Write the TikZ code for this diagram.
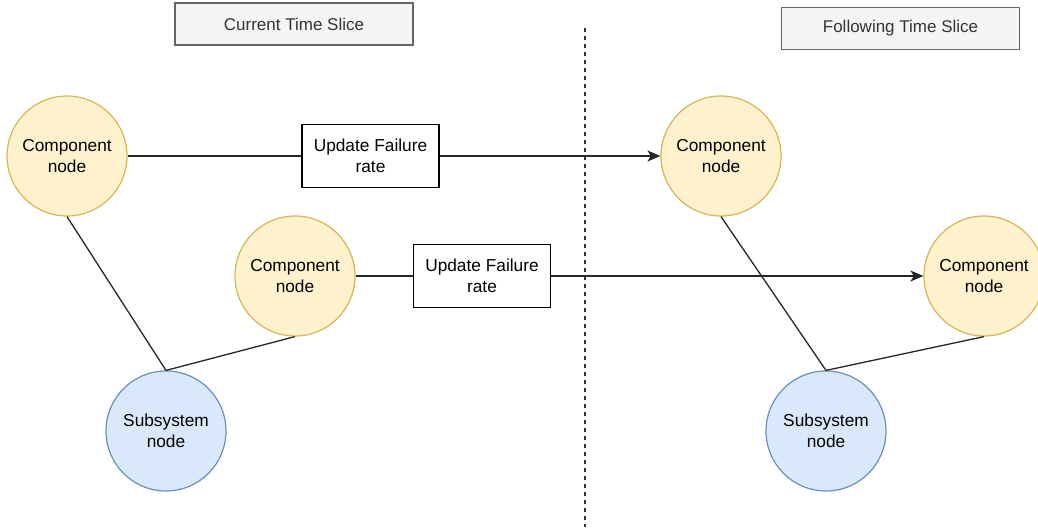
\documentclass[tikz,border=0pt]{standalone}
\usepackage{fontspec}
\setmainfont{Liberation Sans}
\usetikzlibrary{arrows.meta}
\definecolor{compfill}{HTML}{FFF2CC}
\definecolor{compline}{HTML}{D6B656}
\definecolor{subfill}{HTML}{DAE8FC}
\definecolor{subline}{HTML}{6C8EBF}
\definecolor{titlefill}{HTML}{F5F5F5}
\definecolor{titleline}{HTML}{666666}
\definecolor{titletext}{HTML}{333333}
\tikzset{
  lbl/.style={font=\fontsize{17.3}{21}\selectfont, align=center},
  compnode/.style={lbl, circle, draw=compline, fill=compfill, line width=1.2pt,
    minimum size=120pt, inner sep=0pt},
  subnode/.style={lbl, circle, draw=subline, fill=subfill, line width=1.2pt,
    minimum size=120pt, inner sep=0pt},
  updatebox/.style={lbl, rectangle, draw=black, fill=white, line width=1.3pt,
    minimum width=137pt, minimum height=63pt, inner sep=0pt},
  slicebox/.style={rectangle, draw=titleline, fill=titlefill, line width=1.1pt,
    minimum width=238pt, minimum height=42pt, inner sep=0pt, text=titletext,
    font=\fontsize{17}{20}\selectfont},
  link/.style={draw=black!85, line width=1.3pt},
  flow/.style={link, -{Stealth[length=13pt,width=11pt,inset=3.5pt]}}
}
\begin{document}
\begin{tikzpicture}[x=1pt,y=-1pt]
\useasboundingbox (0,0) rectangle (1038,531);
\clip (0,0) rectangle (1038,531);

% slice headings
\node[slicebox] (curslice) at (294,24) {Current Time Slice};
\node[slicebox] (nextslice) at (900.5,28.5) {Following Time Slice};

% separator between the two slices
\coordinate (septop) at (585,28);
\coordinate (sepbot) at (585,527);
\draw[black!80, line width=1.1pt, dash pattern=on 4pt off 4pt] (septop) -- (sepbot);

% current slice
\node[compnode] (cA) at (67,156) {Component\\node};
\node[compnode] (cB) at (295,276) {Component\\node};
\node[subnode]  (sA) at (166,431) {Subsystem\\node};
\node[updatebox] (uA) at (370.5,156) {Update Failure\\rate};
\node[updatebox] (uB) at (482,276) {Update Failure\\rate};

% following slice
\node[compnode] (nA) at (721,156) {Component\\node};
\node[compnode] (nB) at (984,276) {Component\\node};
\node[subnode]  (nS) at (826,431) {Subsystem\\node};

% structure links
\draw[link] (cA.south) -- (sA.north);
\draw[link] (sA.north) -- (cB.south);
\draw[link] (nA.south) -- (nS.north);
\draw[link] (nS.north) -- (nB.south);

% failure-rate updates across slices
\draw[link] (cA.east) -- (uA.west);
\draw[flow] (uA.east) -- (nA.west);
\draw[link] (cB.east) -- (uB.west);
\draw[flow] (uB.east) -- (nB.west);
\end{tikzpicture}
\end{document}
